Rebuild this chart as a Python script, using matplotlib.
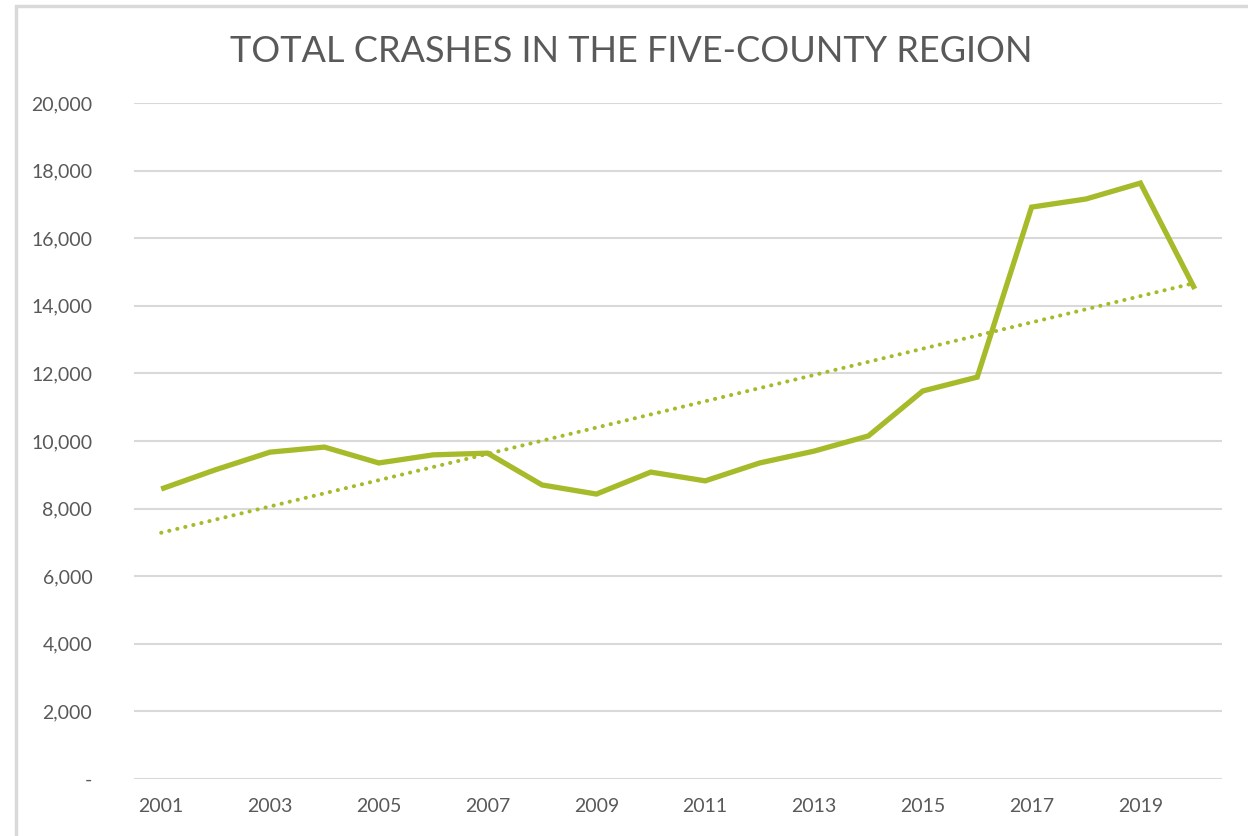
import numpy as np
import matplotlib.pyplot as plt
from matplotlib.patches import Rectangle
from matplotlib.ticker import FuncFormatter

# datos
years = list(range(2001, 2021))
crashes = [8580, 9150, 9670, 9820, 9350, 9590, 9640, 8700, 8430, 9080,
           8820, 9350, 9700, 10150, 11480, 11890, 16920, 17160, 17630, 14500]
y_ticks = [0, 2000, 4000, 6000, 8000, 10000, 12000, 14000, 16000, 18000, 20000]
x_tick_years = [2001, 2003, 2005, 2007, 2009, 2011, 2013, 2015, 2017, 2019]

GREEN = '#A7BA2A'
GRAY_TXT = '#595959'
GRID = '#D9D9D9'

plt.rcParams['font.family'] = ['Lato', 'DejaVu Sans']

fig = plt.figure(figsize=(12.48, 8.36), dpi=100)
ax = fig.add_axes([134/1248, 1 - 779/836, (1222 - 134)/1248, (779 - 103)/836])

# marco exterior
fig.patches.append(Rectangle((16/1248, -0.01), 1.02, 1 - 6/836 + 0.01,
                             transform=fig.transFigure, fill=False,
                             edgecolor=GRID, linewidth=2.5))

x = np.arange(len(years))
ax.plot(x, crashes, color=GREEN, linewidth=3.8, solid_joinstyle='miter',
        solid_capstyle='butt', zorder=3)

# linea de tendencia lineal
coef = np.polyfit(x, crashes, 1)
ax.plot(x, np.polyval(coef, x), color=GREEN, linewidth=2.9,
        linestyle=(0, (0.05, 2.0)), dash_capstyle='round', zorder=2)

ax.set_xlim(-0.5, len(years) - 0.5)
ax.set_ylim(0, 20000)
ax.set_yticks(y_ticks)
ax.yaxis.set_major_formatter(FuncFormatter(lambda v, p: '-' if v == 0 else f'{int(v):,}'))
ax.set_xticks([years.index(y) for y in x_tick_years])
ax.set_xticklabels([str(y) for y in x_tick_years])

ax.grid(axis='y', color=GRID, linewidth=1.5, zorder=0)
ax.set_axisbelow(True)
for s in ax.spines.values():
    s.set_visible(False)
ax.tick_params(length=0, colors=GRAY_TXT, labelsize=14)
ax.tick_params(axis='y', pad=30)
ax.tick_params(axis='x', pad=14)

fig.text(0.506, 1 - 51/836, 'TOTAL CRASHES IN THE FIVE-COUNTY REGION',
         ha='center', va='center', fontsize=26, color=GRAY_TXT)

fig.savefig('out.png', dpi=100)
